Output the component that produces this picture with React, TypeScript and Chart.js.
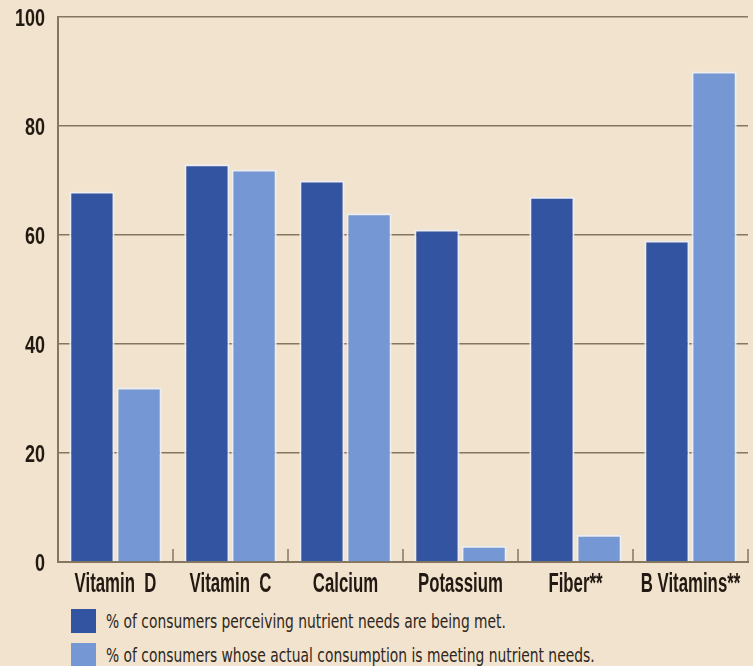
import React, { useEffect, useRef } from "react";
import { Chart, registerables } from "chart.js";

Chart.register(...registerables);

// Nutrients surveyed and the two survey measures (percent of consumers)
const categories = ["Vitamin  D", "Vitamin  C", "Calcium", "Potassium", "Fiber**", "B Vitamins**"];
const perceivedMet = [68, 73, 70, 61, 67, 59];
const actualMet = [32, 72, 64, 3, 5, 90];
const yTicks = [0, 20, 40, 60, 80, 100];
const seriesLabels = [
  "% of consumers perceiving nutrient needs are being met.",
  "% of consumers whose actual consumption is meeting nutrient needs.",
];
const seriesColors = ["#3355a1", "#7597d4"];

const BG = "#f1e3cd";
const LINE = "#857660";
const INK = "#221a12";
const SANS = "'Liberation Sans', Arial, sans-serif";
const CONDENSED = "'DejaVu Sans Condensed', 'Liberation Sans', sans-serif";

// Draws condensed text: horizontally squeezed around its anchor point
function squeezedText(
  ctx: CanvasRenderingContext2D,
  text: string,
  x: number,
  y: number,
  sx: number,
  align: CanvasTextAlign,
  baseline: CanvasTextBaseline
) {
  ctx.save();
  ctx.translate(x, y);
  ctx.scale(sx, 1);
  ctx.textAlign = align;
  ctx.textBaseline = baseline;
  ctx.fillText(text, 0, 0);
  ctx.restore();
}

// Boundary ticks on the category axis plus condensed axis labels
const axisDecor = {
  id: "axisDecor",
  afterDraw(chart: any) {
    const x = chart.scales.x;
    const y = chart.scales.y;
    const area = chart.chartArea;
    const ctx: CanvasRenderingContext2D = chart.ctx;

    ctx.save();
    ctx.strokeStyle = LINE;
    ctx.lineWidth = 1.5;
    for (let i = 1; i <= categories.length; i++) {
      const px =
        i < categories.length
          ? (x.getPixelForValue(i - 1) + x.getPixelForValue(i)) / 2
          : area.right;
      ctx.beginPath();
      ctx.moveTo(px, area.bottom);
      ctx.lineTo(px, area.bottom - 13);
      ctx.stroke();
    }

    ctx.fillStyle = INK;
    ctx.font = `bold 28px ${SANS}`;
    categories.forEach((label, i) => {
      squeezedText(ctx, label, x.getPixelForValue(i), area.bottom + 30, 0.6, "center", "alphabetic");
    });

    ctx.font = `bold 24px ${SANS}`;
    yTicks.forEach((v) => {
      squeezedText(ctx, String(v), area.left - 13, y.getPixelForValue(v) + 2, 0.75, "right", "middle");
    });
    ctx.restore();
  },
};

export default function App() {
  const canvasRef = useRef<HTMLCanvasElement | null>(null);

  useEffect(() => {
    if (!canvasRef.current) return;
    const barStyle = {
      borderColor: "rgba(236,238,246,0.95)",
      borderWidth: 2,
      barPercentage: 0.96,
      categoryPercentage: 0.82,
    };
    const chart = new Chart(canvasRef.current, {
      type: "bar",
      data: {
        labels: categories,
        datasets: [
          { label: seriesLabels[0], data: perceivedMet, backgroundColor: seriesColors[0], ...barStyle },
          { label: seriesLabels[1], data: actualMet, backgroundColor: seriesColors[1], ...barStyle },
        ],
      },
      options: {
        responsive: false,
        animation: false,
        layout: { padding: { top: 17, right: 5, left: 0, bottom: 0 } },
        plugins: {
          legend: { display: false },
          tooltip: { enabled: false },
        },
        scales: {
          x: {
            grid: { display: false },
            border: { display: true, color: LINE, width: 2 },
            ticks: { display: false },
            afterFit(scale: any) {
              scale.height = 38;
            },
          },
          y: {
            min: 0,
            max: 100,
            afterBuildTicks(scale: any) {
              scale.ticks = yTicks.map((v) => ({ value: v }));
            },
            grid: { color: LINE, lineWidth: 1.6, drawTicks: false },
            border: { display: true, color: LINE, width: 2 },
            ticks: { display: false },
            afterFit(scale: any) {
              scale.width = 58;
            },
          },
        },
      },
      plugins: [axisDecor],
    });
    return () => chart.destroy();
  }, []);

  return (
    <div
      style={{
        position: "absolute",
        left: 0,
        top: 0,
        width: 753,
        height: 666,
        overflow: "hidden",
        background: BG,
      }}
    >
      <canvas ref={canvasRef} width={753} height={600} style={{ display: "block" }} />
      {seriesLabels.map((label, i) => (
        <div
          key={label}
          style={{ position: "absolute", left: 71, top: 609 + i * 34, height: 24, whiteSpace: "nowrap" }}
        >
          <span
            style={{
              position: "absolute",
              left: 0,
              top: 0,
              width: 25,
              height: 24,
              background: seriesColors[i],
            }}
          />
          <span
            style={{
              position: "absolute",
              left: 35,
              top: 0,
              lineHeight: "24px",
              fontFamily: CONDENSED,
              fontSize: 20,
              color: "#2f2720",
              transform: "scaleX(0.77)",
              transformOrigin: "left center",
            }}
          >
            {label}
          </span>
        </div>
      ))}
    </div>
  );
}
